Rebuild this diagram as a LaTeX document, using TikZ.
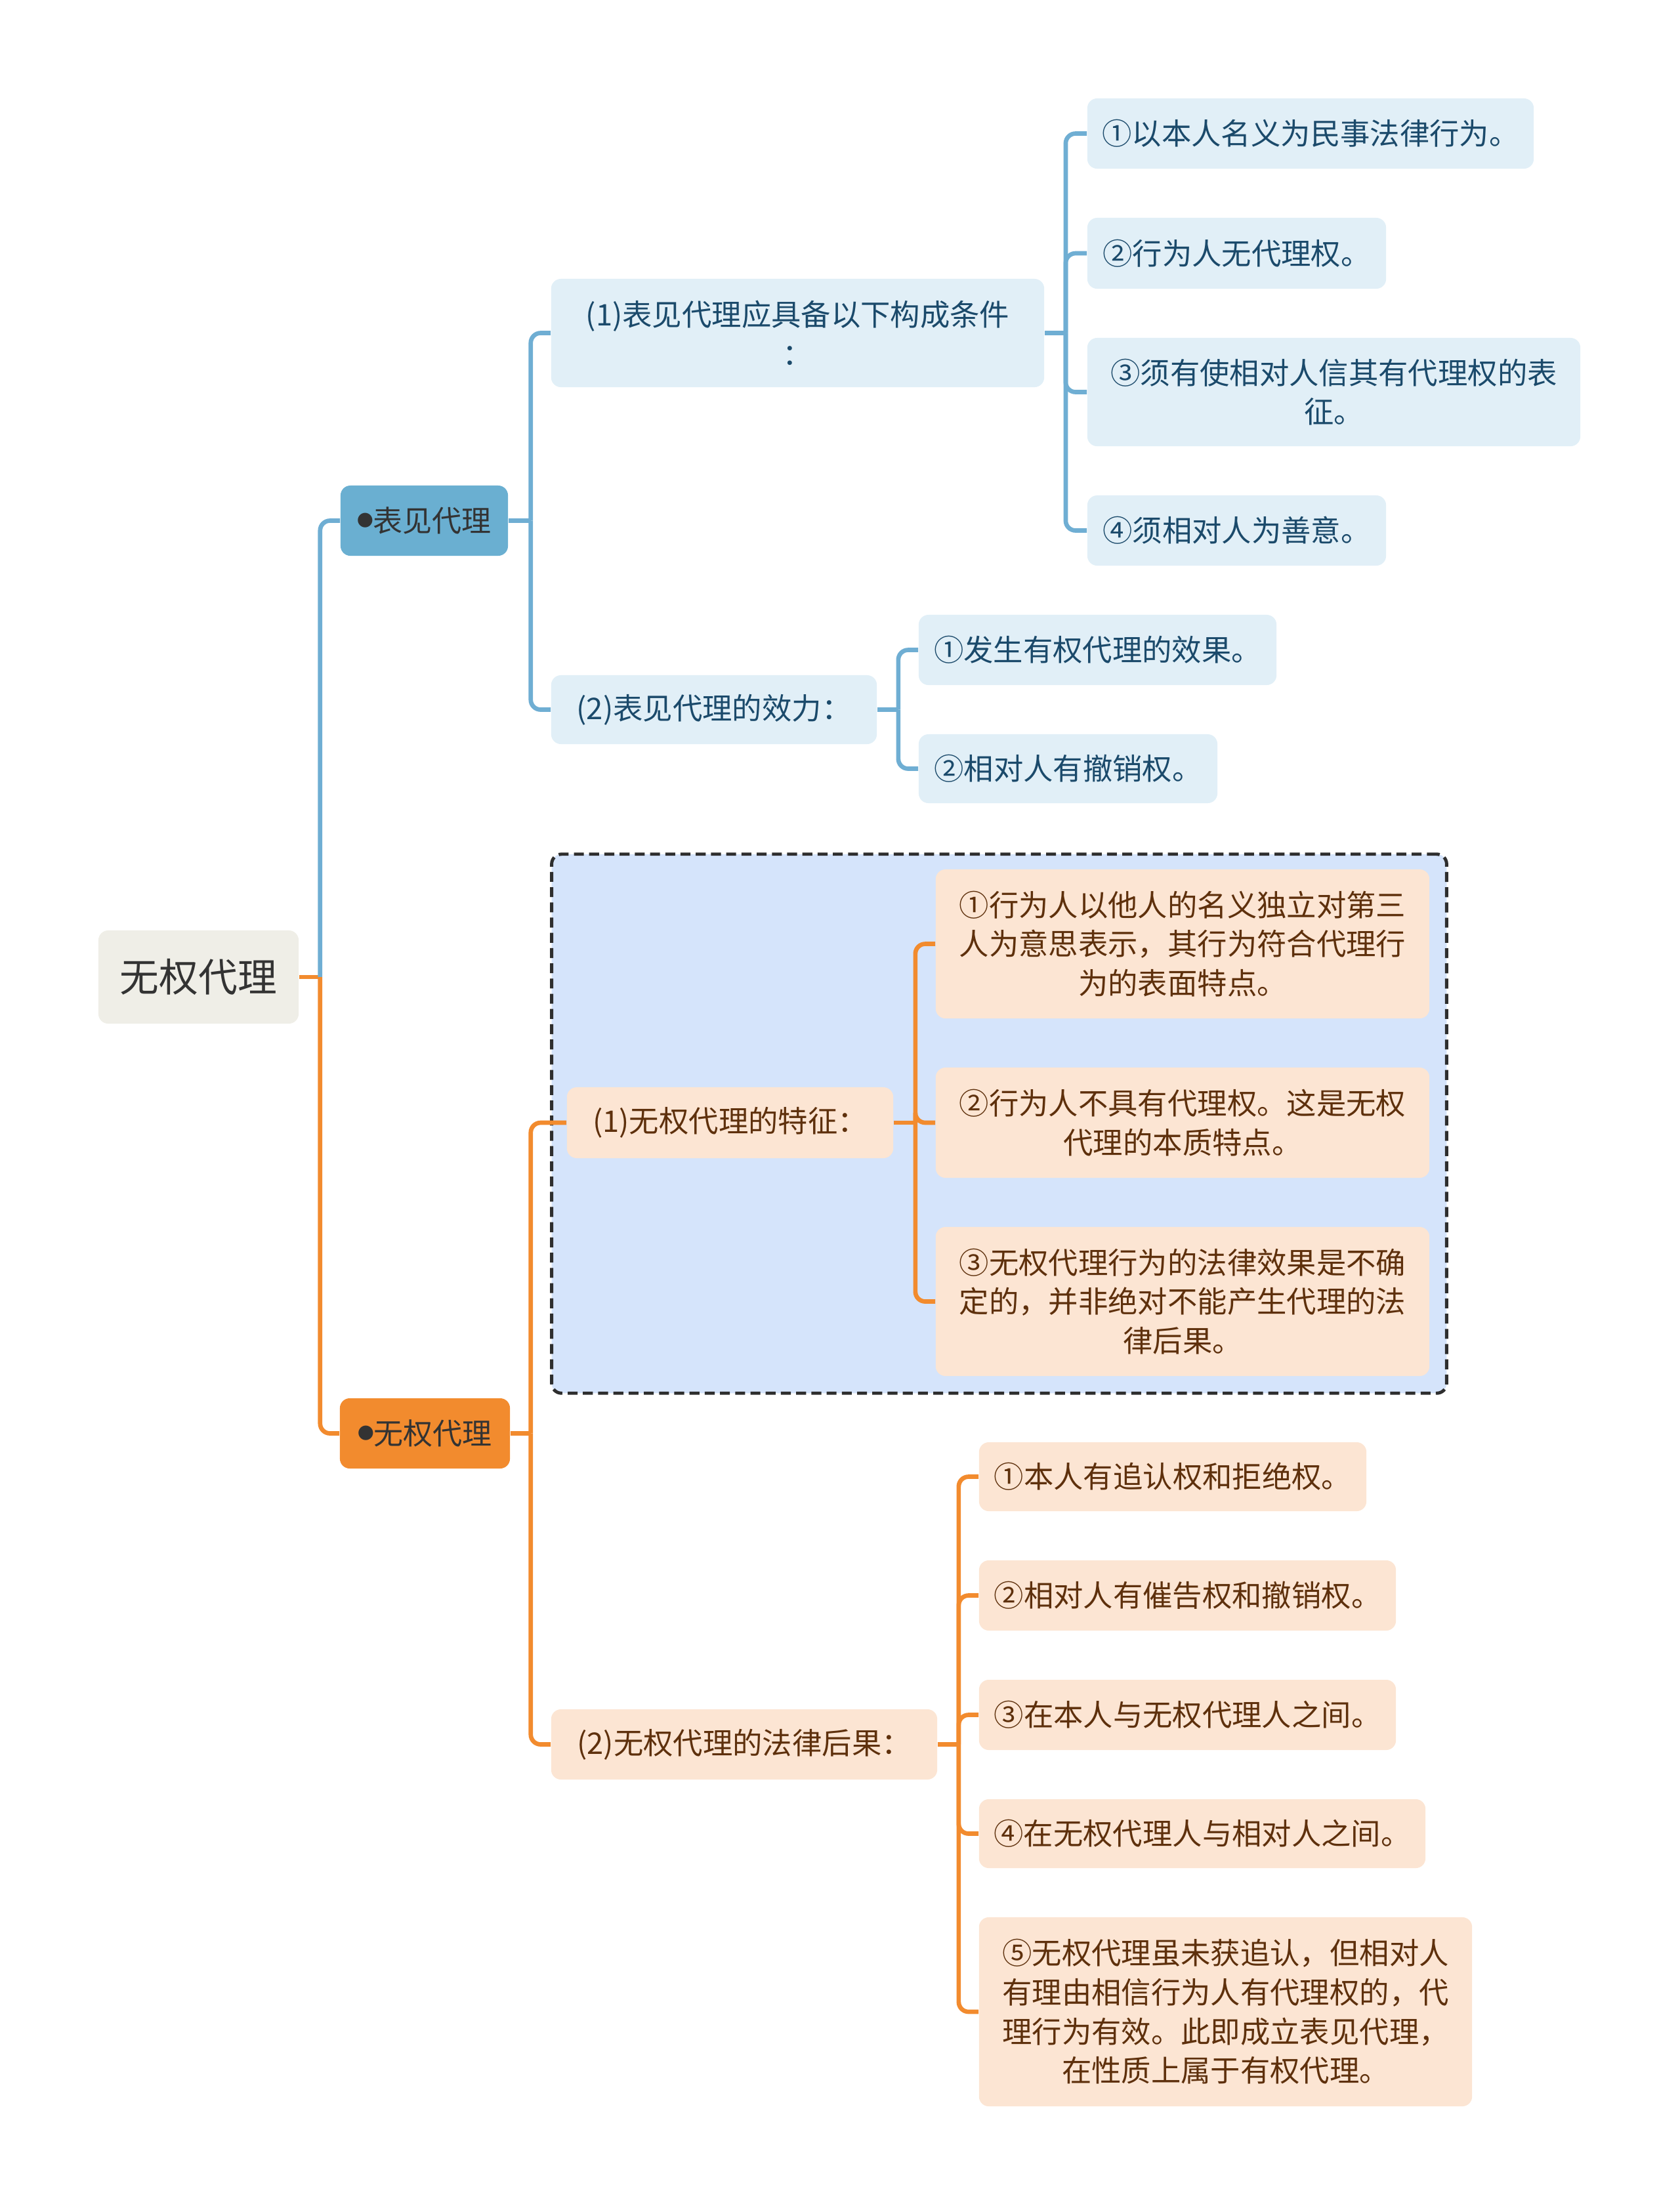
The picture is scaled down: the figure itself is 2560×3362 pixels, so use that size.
\documentclass[tikz,border=0pt]{standalone}
\usepackage{fontspec}
\setmainfont{Noto Sans CJK SC}
\definecolor{rootfill}{HTML}{EFEEE7}
\definecolor{darktext}{HTML}{333333}
\definecolor{bluenode}{HTML}{6AAFD1}
\definecolor{blueline}{HTML}{6FAED3}
\definecolor{bluefill}{HTML}{E1EFF7}
\definecolor{bluetext}{HTML}{1B4A6B}
\definecolor{orangenode}{HTML}{F28B2E}
\definecolor{orangeline}{HTML}{F28B2E}
\definecolor{orangefill}{HTML}{FCE5D3}
\definecolor{browntext}{HTML}{5E300C}
\definecolor{framefill}{HTML}{D5E4FB}
\definecolor{framedraw}{HTML}{2E2E2E}
\newcommand{\dotmark}{\raisebox{2.2pt}{\fontsize{7}{7}\selectfont ●}}
\begin{document}
\begin{tikzpicture}[x=0.01cm,y=-0.01cm,nodes={inner sep=0pt,align=center,rounded corners=.15cm},
  wh/.style 2 args={minimum width=#1cm,minimum height=#2cm},
  root/.style={fill=rootfill,text=darktext,font=\fontsize{17}{20}\selectfont},
  topic/.style={text=darktext,font=\fontsize{12.8}{17}\selectfont},
  bsub/.style={fill=bluefill,text=bluetext,font=\fontsize{12.9}{17}\selectfont},
  osub/.style={fill=orangefill,text=browntext,font=\fontsize{12.9}{17}\selectfont},
  summary/.style={fill=framefill,draw=framedraw,line width=1.4pt,dash pattern=on 4.3pt off 2.3pt},
  bline/.style={draw=blueline,line width=1.9pt},
  oline/.style={draw=orangeline,line width=1.9pt},
  branch/.style={rounded corners=.15cm}]
\useasboundingbox (0,0) rectangle (2560,3362);
\node[summary,wh={13.63}{8.21}] (frame) at (1522.5,1712.5) {};

\node[root,wh={3.05}{1.42}] (root) at (302.5,1489) {无权代理};
\node[topic,fill=bluenode,wh={2.55}{1.07}] (jb) at (646.5,793.5) {\dotmark 表见代理};
\node[topic,fill=orangenode,wh={2.59}{1.07}] (wq) at (647.5,2184.5) {\dotmark 无权代理};

\node[bsub,wh={7.51}{1.65}] (a1) at (1215.5,507.5) {(1)表见代理应具备以下构成条件\\：};
\node[bsub,wh={4.96}{1.05}] (a2) at (1088,1081.5) {(2)表见代理的效力：};
\node[bsub,wh={6.80}{1.07}] (b1) at (1997,203.5) {①以本人名义为民事法律行为。};
\node[bsub,wh={4.55}{1.08}] (b2) at (1884.5,386) {②行为人无代理权。};
\node[bsub,wh={7.51}{1.65}] (b3) at (2032.5,597.5) {③须有使相对人信其有代理权的表\\征。};
\node[bsub,wh={4.55}{1.07}] (b4) at (1884.5,808.5) {④须相对人为善意。};
\node[bsub,wh={5.45}{1.07}] (c1) at (1672.5,990.5) {①发生有权代理的效果。};
\node[bsub,wh={4.55}{1.05}] (c2) at (1627.5,1171.5) {②相对人有撤销权。};

\node[osub,wh={4.97}{1.08}] (w1) at (1112.5,1711) {(1)无权代理的特征：};
\node[osub,wh={7.52}{2.27}] (d1) at (1802,1438.5) {①行为人以他人的名义独立对第三\\人为意思表示，其行为符合代理行\\为的表面特点。};
\node[osub,wh={7.52}{1.68}] (d2) at (1802,1711) {②行为人不具有代理权。这是无权\\代理的本质特点。};
\node[osub,wh={7.52}{2.27}] (d3) at (1802,1983.5) {③无权代理行为的法律效果是不确\\定的，并非绝对不能产生代理的法\\律后果。};
\node[osub,wh={5.88}{1.07}] (w2) at (1134,2658.5) {(2)无权代理的法律后果：};
\node[osub,wh={5.90}{1.05}] (e1) at (1787,2250.5) {①本人有追认权和拒绝权。};
\node[osub,wh={6.35}{1.07}] (e2) at (1809.5,2431.5) {②相对人有催告权和撤销权。};
\node[osub,wh={6.35}{1.07}] (e3) at (1809.5,2613.5) {③在本人与无权代理人之间。};
\node[osub,wh={6.80}{1.05}] (e4) at (1832,2794.5) {④在无权代理人与相对人之间。};
\node[osub,wh={7.51}{2.88}] (e5) at (1867.5,3066) {⑤无权代理虽未获追认，但相对人\\有理由相信行为人有代理权的，代\\理行为有效。此即成立表见代理，\\在性质上属于有权代理。};

\draw[oline] (root.east) -- ++(32,0) coordinate (r0);
\draw[bline,branch] (r0) |- (jb.west);
\draw[oline,branch] (r0) |- (wq.west);
\draw[bline] (jb.east) -- ++(34,0) coordinate (j0);
\foreach \c in {a1,a2} \draw[bline,branch] (j0) |- (\c.west);
\draw[bline] (a1.east) -- ++(32,0) coordinate (a1b);
\foreach \c in {b1,b2,b3,b4} \draw[bline,branch] (a1b) |- (\c.west);
\draw[bline] (a2.east) -- ++(32,0) coordinate (a2b);
\foreach \c in {c1,c2} \draw[bline,branch] (a2b) |- (\c.west);
\draw[oline] (wq.east) -- ++(31,0) coordinate (q0);
\foreach \c in {w1,w2} \draw[oline,branch] (q0) |- (\c.west);
\draw[oline] (w1.east) -- ++(33,0) coordinate (w1b);
\foreach \c in {d1,d2,d3} \draw[oline,branch] (w1b) |- (\c.west);
\draw[oline] (w2.east) -- ++(32,0) coordinate (w2b);
\foreach \c in {e1,e2,e3,e4,e5} \draw[oline,branch] (w2b) |- (\c.west);
\end{tikzpicture}
\end{document}
